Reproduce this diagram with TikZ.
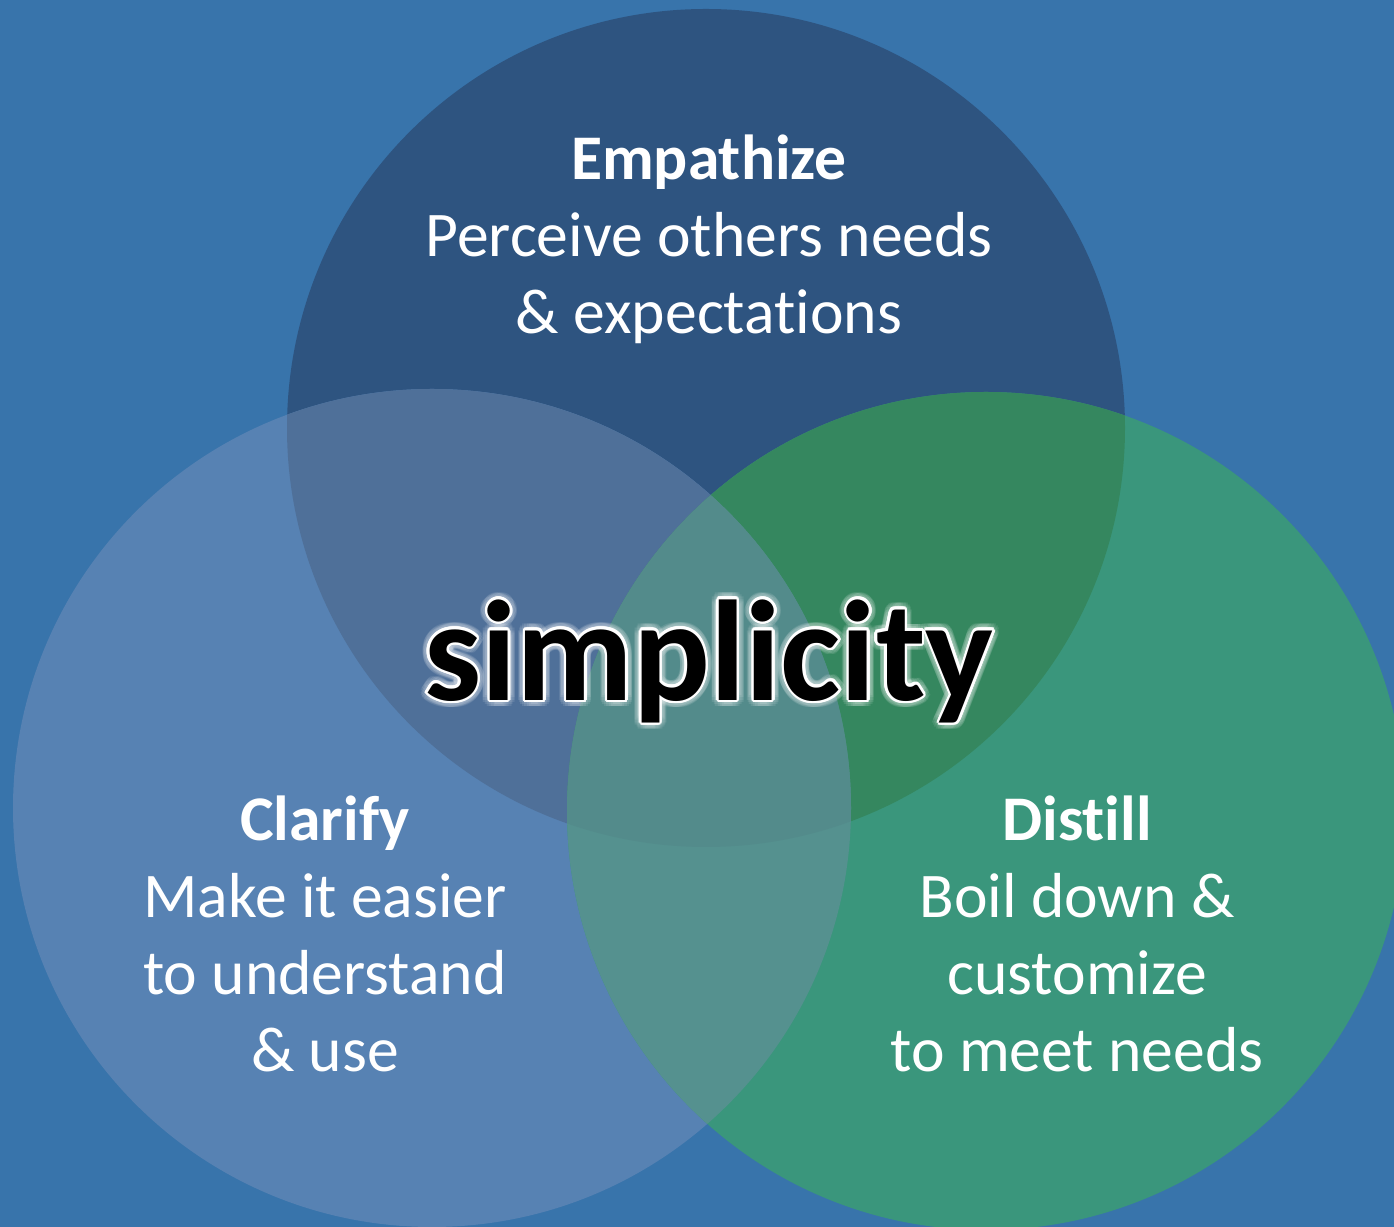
\documentclass[tikz,border=0pt]{standalone}
\usepackage{fontspec}
\setmainfont{Carlito}[Ligatures=NoCommon]
\definecolor{bgblue}{HTML}{3874AB}
\definecolor{topblue}{HTML}{2E5480}
\definecolor{leftblue}{HTML}{5782B3}
\definecolor{rightgreen}{HTML}{3A967C}
\definecolor{topleft}{HTML}{4F7099}
\definecolor{topright}{HTML}{35875F}
\definecolor{leftright}{HTML}{55918F}
\definecolor{allthree}{HTML}{538B8B}
\begin{document}
\begin{tikzpicture}[
  venntext/.style={text=white,align=center,font=\fontsize{18.1}{21.9}\selectfont},
  bigword/.style={font=\fontsize{40.8}{46}\selectfont\bfseries}]
\useasboundingbox (0,0) rectangle (13.94,12.27);
\clip (0,0) rectangle (13.94,12.27);
\fill[bgblue] (0,0) rectangle (13.94,12.27);
\def\rad{4.19}
\coordinate (TOP) at (7.06,7.99);
\coordinate (LFT) at (4.32,4.19);
\coordinate (RGT) at (9.86,4.16);
% the three circles
\fill[topblue] (TOP) circle (\rad);
\fill[leftblue] (LFT) circle (\rad);
\fill[rightgreen] (RGT) circle (\rad);
% overlaps
\begin{scope}
\clip (TOP) circle (\rad);
\fill[topleft] (LFT) circle (\rad);
\fill[topright] (RGT) circle (\rad);
\end{scope}
\begin{scope}
\clip (LFT) circle (\rad);
\fill[leftright] (RGT) circle (\rad);
\clip (TOP) circle (\rad);
\fill[allthree] (RGT) circle (\rad);
\end{scope}
% texts
\node[venntext] (EMP) at (7.09,9.88) {{\bfseries Empathize}\\Perceive others needs\\\& expectations};
\node[venntext] (CLA) at (3.25,2.93) {{\bfseries Clarify}\\Make it easier\\to understand\\\& use};
\node[venntext] (DIS) at (10.77,2.93) {{\bfseries Distill}\\Boil down \&\\customize\\to meet needs};
% glowing word
\foreach \a in {0,20,...,340} {
  \node[bigword,text=white,opacity=0.10,shift={(\a:0.07)}] at (7.09,5.66) {simplicity};
  \node[bigword,text=white,shift={(\a:0.025)}] at (7.09,5.66) {simplicity};
}
\node[bigword,text=black] (SIM) at (7.09,5.66) {simplicity};
\end{tikzpicture}
\end{document}
